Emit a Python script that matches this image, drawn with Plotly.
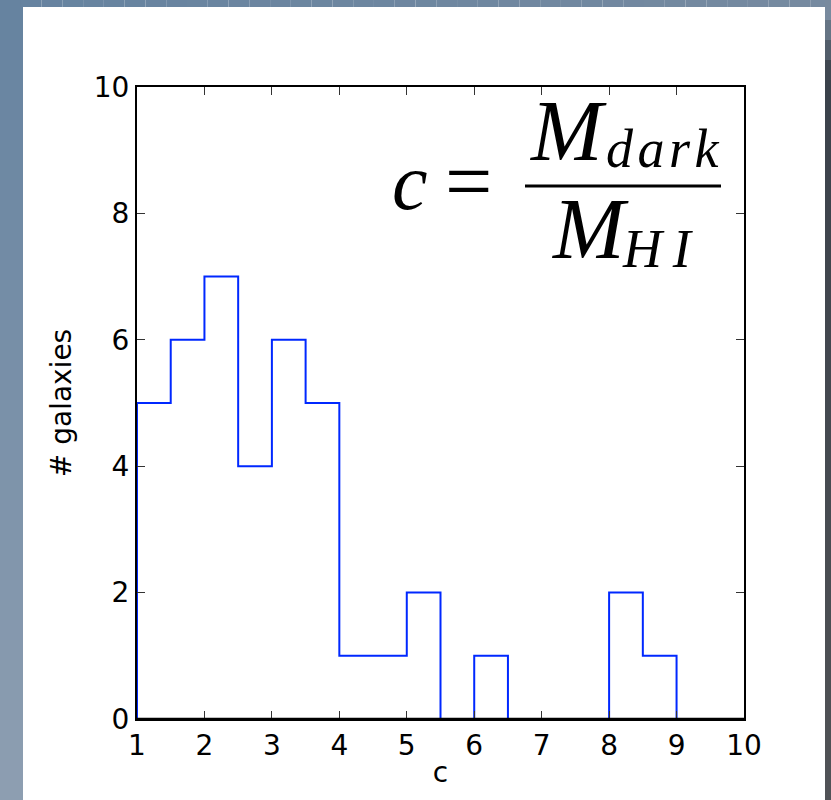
import plotly.graph_objects as go

# Histogram of the dark-to-HI mass ratio c, bins of width 0.5
bin_edges = [1.0, 1.5, 2.0, 2.5, 3.0, 3.5, 4.0, 4.5, 5.0, 5.5,
             6.0, 6.5, 7.0, 7.5, 8.0, 8.5, 9.0, 9.5, 10.0]
counts = [5, 6, 7, 4, 6, 5, 1, 1, 2, 0, 1, 0, 0, 0, 2, 1, 0, 0]

x_ticks = [1, 2, 3, 4, 5, 6, 7, 8, 9, 10]
y_ticks = [0, 2, 4, 6, 8, 10]

W, H = 831, 800
L, R, T, B = 137, 744, 87, 719   # plot area edges in pixels


def px(xp):
    return (xp - L) / (R - L)


def py(yp):
    return (B - yp) / (B - T)


# step outline: start on the baseline, then one level per bin
step_x = [bin_edges[0]] + bin_edges
step_y = [0] + counts + [0]

fig = go.Figure()
fig.add_trace(go.Scatter(
    x=step_x, y=step_y, mode="lines", line_shape="hv",
    line=dict(color="#0028ff", width=2), hoverinfo="skip", showlegend=False,
))


def lerp(c1, c2, t):
    return "rgb({},{},{})".format(*[round(a + (b - a) * t) for a, b in zip(c1, c2)])


shapes = []
n = 40
# left frame strip, vertical gradient
for i in range(n):
    y0, y1 = H * i / n, H * (i + 1) / n
    shapes.append(dict(type="rect", xref="paper", yref="paper", layer="below",
                       x0=px(0), x1=px(23), y0=py(y1), y1=py(y0), line_width=0,
                       fillcolor=lerp((102, 131, 160), (141, 158, 177), i / (n - 1))))
# top frame strip, horizontal gradient
for i in range(n):
    x0, x1 = W * i / n, W * (i + 1) / n
    shapes.append(dict(type="rect", xref="paper", yref="paper", layer="below",
                       x0=px(x0), x1=px(x1), y0=py(7), y1=py(0), line_width=0,
                       fillcolor=lerp((102, 131, 160), (118, 138, 160), i / (n - 1))))
# right frame strip, dark edge
for i in range(n):
    y0, y1 = H * i / n, H * (i + 1) / n
    t = i / (n - 1)
    col = lerp((120, 138, 158), (58, 65, 74), min(1, t * 12)) if t < 0.09 else \
        lerp((58, 65, 74), (80, 82, 86), (t - 0.09) / 0.91)
    shapes.append(dict(type="rect", xref="paper", yref="paper", layer="below",
                       x0=px(825), x1=px(W), y0=py(y1), y1=py(y0), line_width=0,
                       fillcolor=col))

# bottom spine redrawn over the outline's empty bins
shapes.append(dict(type="line", xref="paper", yref="paper", layer="above",
                   x0=0, x1=1, y0=0, y1=0, line=dict(color="black", width=2.5)))

# fraction bar of the formula
shapes.append(dict(type="line", xref="paper", yref="paper",
                   x0=px(525), x1=px(721), y0=py(186), y1=py(186),
                   line=dict(color="black", width=3)))

serif = "Liberation Serif"


def label(text, xp, yp, size, italic=True, xanchor="center"):
    return dict(text=text, x=px(xp), y=py(yp), xref="paper", yref="paper",
                xanchor=xanchor, yanchor="middle", showarrow=False,
                font=dict(family=serif, size=size, color="black",
                          style="italic" if italic else "normal"))


annotations = [
    label("c", 410, 182, 80),
    label("=", 468, 181, 84, italic=False),
    label("M", 568, 131, 86),
    label("d\u200aa\u200ar\u200ak", 604, 149, 54, xanchor="left"),
    label("M", 590, 229, 86),
    label("H\u2009I", 620, 249, 54, xanchor="left"),
]

tickfont = dict(family="DejaVu Sans", size=28, color="black")
axis_common = dict(
    showline=True, linecolor="black", linewidth=2, mirror="ticks",
    ticks="inside", ticklen=8, tickwidth=1, tickcolor="#333333",
    showgrid=False, zeroline=False, tickfont=tickfont,
)

fig.update_layout(
    width=W, height=H,
    margin=dict(l=L, r=W - R, t=T, b=H - B),
    paper_bgcolor="white", plot_bgcolor="white",
    shapes=shapes, annotations=annotations,
    xaxis=dict(range=[1, 10], tickvals=x_ticks, ticktext=[str(v) for v in x_ticks],
               title=dict(text="c", font=dict(family="DejaVu Sans", size=28, color="black"),
                          standoff=2),
               **axis_common),
    yaxis=dict(range=[0, 10], tickvals=y_ticks, ticktext=[str(v) for v in y_ticks],
               title=dict(text="# galaxies", font=dict(family="DejaVu Sans", size=28, color="black"),
                          standoff=14),
               **axis_common),
)

fig.write_html("out.html")
